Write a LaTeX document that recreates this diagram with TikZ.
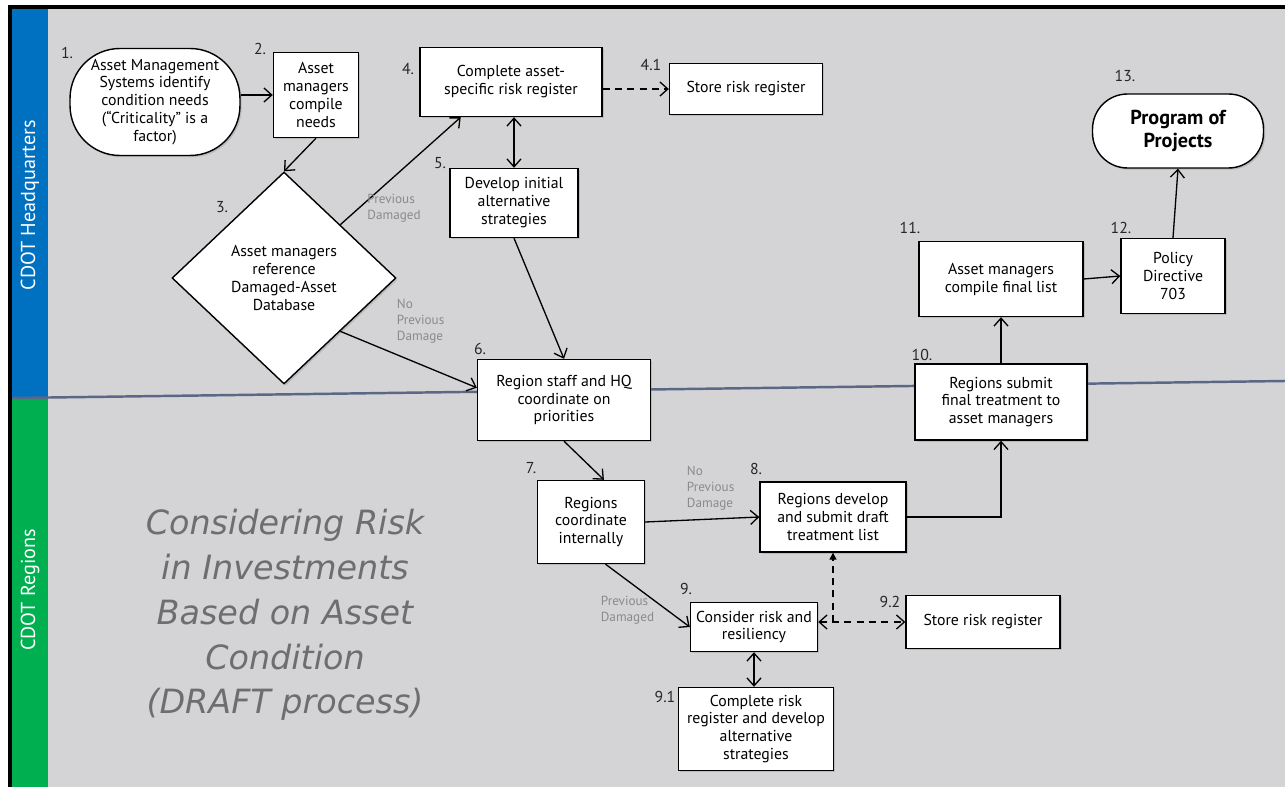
\documentclass[tikz,border=0pt]{standalone}
\usepackage{fontspec}
\setmainfont{PT Sans}
\newfontfamily\titlefont{DejaVu Sans}
\usetikzlibrary{arrows.meta,shapes.geometric,shadows}
\definecolor{hqblue}{HTML}{0070C0}
\definecolor{rggreen}{HTML}{00B050}
\definecolor{lanegray}{HTML}{D4D4D6}
\definecolor{divline}{HTML}{5A6785}
\definecolor{condgray}{HTML}{8A8A8A}
\definecolor{titlegray}{HTML}{6E6E70}

\begin{document}
\begin{tikzpicture}[x=0.02cm,y=-0.02cm]
        \tikzset{procbox/.style = {draw, fill=white, line width=0.8pt, align=center, inner sep=0pt,
                font=\fontsize{9}{10.2}\selectfont,
                drop shadow={shadow xshift=1pt, shadow yshift=-1pt, opacity=0.3}}}
        \tikzset{term/.style = {procbox}}
        \tikzset{decision/.style = {procbox, shape=diamond, minimum width=4.48cm, minimum height=4.24cm}}
        \tikzset{num/.style = {font=\fontsize{9}{10}\selectfont, text=black!85, inner sep=0pt}}
        \tikzset{cond/.style = {text=condgray, font=\fontsize{7.5}{9}\selectfont, align=left, inner sep=0pt}}
        \tikzset{barb/.tip = {Straight Barb[length=4.5pt, width=8pt]}}
        \tikzset{edge/.style = {-barb, line width=0.75pt}}
        \tikzset{biedge/.style = {edge, barb-barb}}
        \tikzset{dedge/.style = {edge, dash pattern=on 4pt off 3pt}}
        % lanes
        \useasboundingbox (0,0) rectangle (1285,787);
        \fill[white] (0,0) rectangle (1285,787);
        \fill[black] (8,5) rectangle (1285,787);
        \fill[lanegray] (12,9) rectangle (1285,787);
        \fill[hqblue] (12,9) rectangle (48,397);
        \fill[rggreen] (12,397) rectangle (48,787);
        \draw[divline, line width=1.4pt] (12,398) -- (1285,381);
        \node[rotate=90, text=white, font=\fontsize{11.5}{13}\selectfont] (hq) at (30,205) {CDOT Headquarters};
        \node[rotate=90, text=white, font=\fontsize{11.5}{13}\selectfont] (rg) at (30,590) {CDOT Regions};
        \node[text=titlegray, align=center, font=\titlefont\fontsize{19}{25.5}\selectfont\itshape] (title) at (285,615)
                {Considering Risk\\in Investments\\Based on Asset\\Condition\\(DRAFT process)};
        % steps
        \node[term, minimum width=3.4cm, minimum height=2.14cm, rounded corners=1cm] (n1) at (155,102)
                {Asset Management\\Systems identify\\condition needs\\(“Criticality” is a\\factor)};
        \node[procbox, minimum width=1.7cm, minimum height=1.7cm] (n2) at (316,95) {Asset\\managers\\compile\\needs};
        \node[decision] (d3) at (284,278) {Asset managers\\reference\\Damaged-Asset\\Database};
        \node[procbox, minimum width=3.64cm, minimum height=1.38cm] (n4) at (511,82) {Complete asset-\\specific risk register};
        \node[procbox, minimum width=3.06cm, minimum height=1.02cm] (n41) at (746,89) {Store risk register};
        \node[procbox, minimum width=2.56cm, minimum height=1.38cm] (n5) at (514,203) {Develop initial\\alternative\\strategies};
        \node[procbox, minimum width=3.46cm, minimum height=1.62cm] (n6) at (564,400) {Region staff and HQ\\coordinate on\\priorities};
        \node[procbox, minimum width=2.14cm, minimum height=1.66cm] (n7) at (591,522) {Regions\\coordinate\\internally};
        \node[procbox, minimum width=2.92cm, minimum height=1.4cm] (n8) at (833,517) {Regions develop\\and submit draft\\treatment list};
        \node[procbox, minimum width=2.54cm, minimum height=0.98cm] (n9) at (754,627) {Consider risk and\\resiliency};
        \node[procbox, minimum width=3.1cm, minimum height=1.66cm] (n91) at (756,729) {Complete risk\\register and develop\\alternative\\strategies};
        \node[procbox, minimum width=3.08cm, minimum height=1.06cm] (n92) at (983,622) {Store risk register};
        \node[procbox, minimum width=3.44cm, minimum height=1.52cm] (n10) at (1001,402) {Regions submit\\final treatment to\\asset managers};
        \node[procbox, minimum width=3.28cm, minimum height=1.5cm] (n11) at (1001,279) {Asset managers\\compile final list};
        \node[procbox, minimum width=2.08cm, minimum height=1.5cm] (n12) at (1173,276) {Policy\\Directive\\703};
        \node[term, minimum width=3.42cm, minimum height=1.48cm, rounded corners=0.7cm,
                font=\fontsize{11.5}{13}\selectfont\bfseries] (n13) at (1178,131) {Program of\\Projects};
        % step numbers
        \node[num] (l1) at (67,53) {1.};
        \node[num] (l2) at (260,49) {2.};
        \node[num] (l3) at (222,207) {3.};
        \node[num] (l4) at (408,69) {4.};
        \node[num] (l41) at (651,65) {4.1};
        \node[num] (l5) at (440,163) {5.};
        \node[num] (l6) at (480,349) {6.};
        \node[num] (l7) at (531,468) {7.};
        \node[num] (l8) at (756,469) {8.};
        \node[num] (l9) at (686,589) {9.};
        \node[num] (l91) at (665,697) {9.1};
        \node[num] (l92) at (890,602) {9.2};
        \node[num] (l10) at (922,355) {10.};
        \node[num] (l11) at (910,228) {11.};
        \node[num] (l12) at (1121,228) {12.};
        \node[num] (l13) at (1125,76) {13.};
        % edges
        \draw[edge] (n1.east |- n2) -- (n2.west);
        \draw[edge] (n2.south) -- (d3.north);
        \draw[edge] (d3.north east) -- node[cond, pos=0.22, anchor=north west, yshift=4pt] {Previous\\Damaged} (n4.-145);
        \draw[edge] (d3.south east) -- node[cond, pos=0.41, anchor=south west, yshift=6pt] {No\\Previous\\Damage} (n6.172);
        \draw[biedge] (n5.north |- n4.south) -- (n5.north);
        \draw[dedge] (n4.east |- n41) -- (n41.west);
        \draw[edge] (n5.south) -- (n6.north);
        \draw[edge] (n6.south) -- (n7.73);
        \draw[edge] (n7.east) -- node[cond, pos=0.36, anchor=south west, yshift=5.5pt] {No\\Previous\\Damage} (n8.west);
        \draw[edge] (n7.-71) -- node[cond, pos=0.73, anchor=east, xshift=-7pt] {Previous\\Damaged} (n9.west);
        \draw[biedge] (n9.south) -- (n9.south |- n91.north);
        \draw[dedge, barb-barb] (n9.east |- n92) -- (n92.west);
        \coordinate (j9) at (n8.south |- n92);
        \draw[dedge, -{Triangle[length=4pt, width=4pt]}] (j9) -- (n8.south);
        \draw[edge] (n8.east) -| (n10.south);
        \draw[edge] (n10.north) -- (n11.south);
        \draw[edge] (n11.east) -- (n12.west);
        \draw[edge] (n12.north) -- (n13.south);
\end{tikzpicture}
\end{document}
